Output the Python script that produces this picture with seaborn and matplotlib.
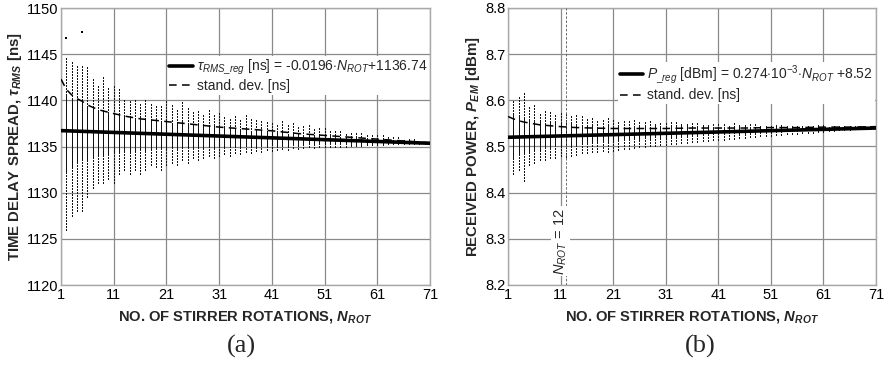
import numpy as np
import pandas as pd
import matplotlib
matplotlib.use("Agg")
import matplotlib.pyplot as plt
import seaborn as sns

# ---------------- data ----------------
n_rot = list(range(1, 72))

# panel (a): outer extents of the dot columns of tau_RMS [ns]
a_hi = [1148.5, 1144.8, 1144.3, 1143.8, 1143.8, 1143.6, 1142.5, 1141.8, 1142.5, 1141.5,
        1141.5, 1141.3, 1140.0, 1140.0, 1140.0, 1139.6, 1140.2, 1139.8, 1139.5, 1139.5,
        1140.0, 1139.5, 1139.0, 1139.8, 1139.2, 1139.0, 1138.8, 1138.5, 1139.0, 1138.5,
        1138.8, 1138.4, 1138.2, 1138.3, 1138.0, 1138.5, 1138.2, 1137.9, 1137.8, 1137.6,
        1137.8, 1137.5, 1137.8, 1137.4, 1137.5, 1137.3, 1137.2, 1137.4, 1137.0, 1137.1,
        1137.0, 1136.8, 1136.9, 1136.7, 1136.6, 1136.7, 1136.5, 1136.5, 1136.4, 1136.3,
        1136.3, 1136.2, 1136.1, 1136.0, 1136.0, 1135.9, 1135.8, 1135.8, 1135.7, 1135.6,
        1135.5]
a_lo = [1124.0, 1126.0, 1127.5, 1128.0, 1128.0, 1129.5, 1130.5, 1131.0, 1131.0, 1131.5,
        1131.0, 1132.0, 1132.5, 1132.0, 1132.5, 1132.0, 1132.5, 1133.0, 1132.8, 1132.5,
        1133.0, 1133.2, 1133.0, 1133.5, 1133.2, 1133.8, 1133.5, 1133.8, 1134.0, 1133.8,
        1134.0, 1134.2, 1134.0, 1134.3, 1134.2, 1134.4, 1134.3, 1134.5, 1134.4, 1134.6,
        1134.5, 1134.6, 1134.7, 1134.6, 1134.8, 1134.7, 1134.8, 1134.9, 1134.8, 1134.9,
        1135.0, 1134.9, 1135.0, 1135.0, 1135.0, 1135.1, 1135.1, 1135.1, 1135.2, 1135.2,
        1135.2, 1135.2, 1135.3, 1135.3, 1135.3, 1135.3, 1135.4, 1135.4, 1135.4, 1135.4,
        1135.4]
# panel (a): dense core of each column
a_in_hi = [1141.5, 1140.8, 1140.3, 1140.0, 1139.7, 1139.4, 1139.2, 1139.0, 1138.9, 1138.7,
           1138.6, 1138.5, 1138.4, 1138.3, 1138.2, 1138.1, 1138.0, 1137.9, 1137.9, 1137.8,
           1137.7, 1137.7, 1137.6, 1137.6, 1137.5, 1137.4, 1137.4, 1137.3, 1137.3, 1137.2,
           1137.1, 1137.1, 1137.0, 1137.0, 1136.9, 1136.9, 1136.8, 1136.8, 1136.8, 1136.7,
           1136.7, 1136.6, 1136.6, 1136.5, 1136.5, 1136.4, 1136.4, 1136.3, 1136.3, 1136.2,
           1136.2, 1136.2, 1136.1, 1136.1, 1136.0, 1136.0, 1136.0, 1135.9, 1135.9, 1135.8,
           1135.8, 1135.8, 1135.7, 1135.7, 1135.7, 1135.6, 1135.6, 1135.6, 1135.5, 1135.5,
           1135.4]
a_in_lo = [1131.5, 1132.3, 1132.8, 1133.2, 1133.5, 1133.7, 1133.9, 1134.0, 1134.1, 1134.2,
           1134.3, 1134.4, 1134.4, 1134.5, 1134.5, 1134.6, 1134.6, 1134.7, 1134.7, 1134.7,
           1134.8, 1134.8, 1134.8, 1134.9, 1134.9, 1134.9, 1134.9, 1135.0, 1135.0, 1135.0,
           1135.0, 1135.0, 1135.1, 1135.1, 1135.1, 1135.1, 1135.1, 1135.1, 1135.2, 1135.2,
           1135.2, 1135.2, 1135.2, 1135.2, 1135.2, 1135.2, 1135.3, 1135.3, 1135.3, 1135.3,
           1135.3, 1135.3, 1135.3, 1135.3, 1135.3, 1135.3, 1135.3, 1135.3, 1135.3, 1135.3,
           1135.3, 1135.3, 1135.3, 1135.3, 1135.3, 1135.3, 1135.3, 1135.3, 1135.3, 1135.3,
           1135.3]
a_out_x = [2, 5]
a_out_y = [1146.8, 1147.4]
a_reg_x = [1, 71]
a_reg_y = [1136.72, 1135.35]
a_std_x = [1, 2, 3, 4, 5, 6, 8, 10, 13, 16, 21, 26, 31, 36, 41, 46, 51, 56, 61, 66, 71]
a_std_y = [1142.3, 1141.2, 1140.6, 1140.2, 1139.9, 1139.5, 1139.0, 1138.7, 1138.3, 1138.0,
           1137.7, 1137.4, 1137.1, 1136.9, 1136.7, 1136.4, 1136.2, 1136.0, 1135.8, 1135.6,
           1135.4]

# panel (b): outer extents of the dot columns of P_EM [dBm]
b_hi = [8.630, 8.600, 8.610, 8.615, 8.585, 8.590, 8.575, 8.580, 8.575, 8.570,
        8.575, 8.570, 8.565, 8.570, 8.565, 8.560, 8.565, 8.560, 8.560, 8.565,
        8.560, 8.558, 8.560, 8.556, 8.558, 8.555, 8.556, 8.555, 8.554, 8.555,
        8.554, 8.553, 8.552, 8.553, 8.552, 8.551, 8.552, 8.551, 8.550, 8.551,
        8.550, 8.550, 8.549, 8.550, 8.549, 8.549, 8.548, 8.549, 8.548, 8.548,
        8.548, 8.547, 8.547, 8.547, 8.547, 8.546, 8.546, 8.546, 8.546, 8.546,
        8.546, 8.545, 8.545, 8.545, 8.545, 8.545, 8.545, 8.544, 8.544, 8.544,
        8.544]
b_lo = [8.415, 8.440, 8.450, 8.425, 8.460, 8.465, 8.470, 8.470, 8.475, 8.475,
        8.480, 8.478, 8.480, 8.482, 8.485, 8.485, 8.488, 8.488, 8.490, 8.488,
        8.490, 8.492, 8.494, 8.495, 8.496, 8.498, 8.499, 8.500, 8.502, 8.503,
        8.504, 8.505, 8.506, 8.507, 8.508, 8.509, 8.510, 8.511, 8.512, 8.513,
        8.514, 8.515, 8.516, 8.517, 8.518, 8.519, 8.520, 8.521, 8.522, 8.522,
        8.523, 8.524, 8.525, 8.526, 8.527, 8.528, 8.529, 8.530, 8.530, 8.531,
        8.532, 8.533, 8.534, 8.535, 8.535, 8.536, 8.537, 8.537, 8.538, 8.538,
        8.539]
b_in_hi = [8.575, 8.570, 8.566, 8.563, 8.560, 8.558, 8.556, 8.554, 8.552, 8.551,
           8.550, 8.549, 8.548, 8.547, 8.547, 8.546, 8.546, 8.545, 8.545, 8.545,
           8.545, 8.545, 8.545, 8.545, 8.545, 8.545, 8.545, 8.545, 8.545, 8.545,
           8.545, 8.545, 8.545, 8.545, 8.545, 8.545, 8.545, 8.545, 8.545, 8.545,
           8.545, 8.545, 8.545, 8.545, 8.545, 8.545, 8.545, 8.545, 8.545, 8.545,
           8.545, 8.545, 8.545, 8.545, 8.545, 8.545, 8.545, 8.545, 8.545, 8.545,
           8.544, 8.544, 8.544, 8.544, 8.544, 8.544, 8.544, 8.544, 8.544, 8.544,
           8.544]
b_in_lo = [8.470, 8.478, 8.483, 8.487, 8.490, 8.493, 8.495, 8.497, 8.499, 8.500,
           8.502, 8.503, 8.504, 8.505, 8.506, 8.507, 8.508, 8.509, 8.510, 8.511,
           8.512, 8.513, 8.514, 8.515, 8.516, 8.517, 8.518, 8.519, 8.520, 8.520,
           8.521, 8.522, 8.523, 8.524, 8.524, 8.525, 8.526, 8.526, 8.527, 8.527,
           8.528, 8.528, 8.529, 8.529, 8.530, 8.530, 8.531, 8.531, 8.532, 8.532,
           8.533, 8.533, 8.533, 8.534, 8.534, 8.534, 8.535, 8.535, 8.535, 8.536,
           8.536, 8.536, 8.537, 8.537, 8.537, 8.538, 8.538, 8.538, 8.538, 8.539,
           8.539]
b_out_x = [1, 1]
b_out_y = [8.663, 8.632]
b_reg_x = [1, 71]
b_reg_y = [8.520, 8.540]
b_std_x = [1, 2, 3, 4, 5, 7, 9, 11, 14, 17, 21, 26, 31, 36, 41, 46, 51, 56, 61, 66, 71]
b_std_y = [8.565, 8.560, 8.556, 8.553, 8.551, 8.547, 8.545, 8.543, 8.541, 8.540,
           8.539, 8.539, 8.539, 8.540, 8.540, 8.540, 8.541, 8.541, 8.542, 8.542,
           8.543]

x_ticks = [1, 11, 21, 31, 41, 51, 61, 71]
a_yticks = [1120, 1125, 1130, 1135, 1140, 1145, 1150]
b_yticks = [8.2, 8.3, 8.4, 8.5, 8.6, 8.7, 8.8]
marker_n = 12

# ---------------- style ----------------
sns.set_theme(style="white")
plt.rcParams["font.family"] = ["Liberation Sans", "DejaVu Sans"]
plt.rcParams["mathtext.fontset"] = "custom"
plt.rcParams["mathtext.rm"] = "Liberation Sans"
plt.rcParams["mathtext.it"] = "Liberation Sans:italic"
plt.rcParams["mathtext.bf"] = "Liberation Sans:bold:italic"

fig = plt.figure(figsize=(8.86, 3.67), dpi=100)
fig.patch.set_facecolor("white")
ax_a = fig.add_axes([61 / 886, 1 - 285 / 367, 369 / 886, 277 / 367])
ax_b = fig.add_axes([508 / 886, 1 - 285 / 367, 368 / 886, 277 / 367])

grid_col = "#8a8a8a"
spine_col = "#a8a8a8"


def draw_panel(ax, hi, lo, in_hi, in_lo, ox, oy, rx, ry, sx, sy, yticks, ylim,
               reg_label, leg_y):
    ax.set_facecolor("white")
    ax.set_axisbelow(True)
    ax.grid(True, color=grid_col, linewidth=0.9)
    ax.vlines(n_rot, lo, hi, colors="#111111", linewidth=0.8,
              linestyles=(0, (1.0, 1.6)), zorder=2, antialiased=False)
    ax.vlines(n_rot, in_lo, in_hi, colors="#111111", linewidth=0.8,
              linestyles=(0, (1.0, 0.8)), zorder=2, antialiased=False)
    sns.scatterplot(x=ox, y=oy, ax=ax, color="black", s=3, marker="s",
                    linewidth=0, zorder=2)
    sns.lineplot(x=sx, y=sy, ax=ax, color="black", linewidth=1.1,
                 dashes=False, linestyle=(0, (5, 3.5)), zorder=3,
                 label="stand. dev. [ns]")
    sns.lineplot(x=rx, y=ry, ax=ax, color="black", linewidth=2.6, zorder=4,
                 label=reg_label)
    ax.set_xlim(1, 71)
    ax.set_ylim(*ylim)
    ax.set_xticks(x_ticks)
    ax.set_yticks(yticks)
    ax.tick_params(axis="both", length=0, labelsize=10.5, pad=2, colors="black")
    for s in ax.spines.values():
        s.set_color(spine_col)
        s.set_linewidth(1.0)
    ax.set_xlabel(r"NO. OF STIRRER ROTATIONS, $\mathbf{N}_{\mathbf{ROT}}$",
                  fontsize=10.6, fontweight="bold", labelpad=5)
    h, l = ax.get_legend_handles_labels()
    leg = ax.legend(h[::-1], l[::-1], loc="upper right",
                    bbox_to_anchor=(1.0, leg_y), frameon=True, framealpha=1,
                    edgecolor="none", facecolor="white", fontsize=10,
                    handlelength=1.7, handletextpad=0.3, borderpad=0.1,
                    labelspacing=0.15, borderaxespad=0.1)
    leg.set_zorder(5)
    return ax


draw_panel(ax_a, a_hi, a_lo, a_in_hi, a_in_lo, a_out_x, a_out_y, a_reg_x, a_reg_y,
           a_std_x, a_std_y, a_yticks, (1120, 1150),
           r"$\tau_{RMS\_reg}$ [ns] = -0.0196$\cdot$$N_{ROT}$+1136.74", 0.83)
ax_a.set_yticklabels([str(v) for v in a_yticks])
ax_a.set_ylabel(r"TIME DELAY SPREAD, $\mathbf{\tau}_{\mathbf{RMS}}$ [ns]",
                fontsize=10.8, fontweight="bold", labelpad=2)

draw_panel(ax_b, b_hi, b_lo, b_in_hi, b_in_lo, b_out_x, b_out_y, b_reg_x, b_reg_y,
           b_std_x, b_std_y, b_yticks, (8.2, 8.8),
           r"$P_{\_reg}$ [dBm] = 0.274$\cdot$10$^{\mathrm{-3}}$$\cdot$$N_{ROT}$ +8.52", 0.81)
ax_b.set_yticklabels([f"{v:.1f}" for v in b_yticks])
ax_b.set_ylabel(r"RECEIVED POWER, $\mathbf{P}_{\mathbf{EM}}$ [dBm]",
                fontsize=10.8, fontweight="bold", labelpad=2)
ax_b.axvline(marker_n, color="#555555", linewidth=0.6, linestyle=(0, (3, 2)), zorder=3)
ax_b.text(11, 8.295, r"$N_{ROT}$ = 12", rotation=90, ha="center", va="center",
          fontsize=10.5, zorder=6,
          bbox=dict(facecolor="white", edgecolor="none", pad=1.0))

fig.text(241 / 886, 1 - 346 / 367, "(a)", family="Liberation Serif", fontsize=19,
         ha="center", va="center")
fig.text(700 / 886, 1 - 346 / 367, "(b)", family="Liberation Serif", fontsize=19,
         ha="center", va="center")

fig.savefig("out.png", dpi=100, facecolor="white")
